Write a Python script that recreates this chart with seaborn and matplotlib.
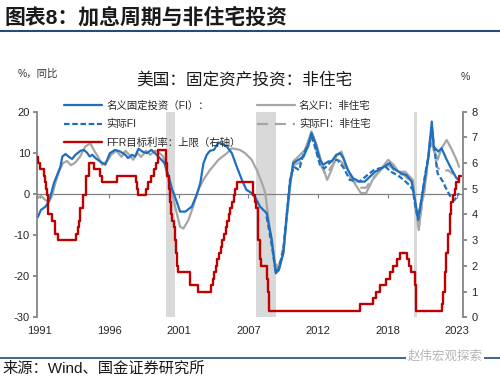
import matplotlib
matplotlib.use('Agg')
import matplotlib.pyplot as plt
import seaborn as sns

# ---- data ----
# nominal fixed investment, y/y %
nom_fi_t = [1991.15, 1991.4, 1991.75, 1992.0, 1992.2, 1992.4, 1992.65, 1992.9, 1993.05, 1993.3,
            1993.55, 1993.8, 1994.05, 1994.45, 1994.7, 1994.95, 1995.15, 1995.35, 1995.6, 1995.95,
            1996.35, 1996.7, 1997.1, 1997.5, 1997.9, 1998.1, 1998.4, 1998.65, 1998.9, 1999.2,
            1999.55, 1999.9, 2000.3, 2000.6, 2000.9, 2001.2, 2001.5, 2001.8, 2002.1, 2002.5,
            2003.0, 2003.4, 2003.65, 2003.9, 2004.15, 2004.4, 2004.7, 2005.05, 2005.4, 2005.7,
            2006.08, 2006.46, 2006.85, 2007.2, 2007.6, 2007.9, 2008.25, 2008.76, 2009.15, 2009.45,
            2009.7, 2010.04, 2010.3, 2010.55, 2010.8, 2011.2, 2011.6, 2011.96, 2012.2, 2012.5,
            2012.86, 2013.1, 2013.5, 2013.75, 2014.1, 2014.4, 2014.65, 2015.0, 2015.4, 2015.9,
            2016.3, 2016.7, 2017.1, 2017.6, 2018.0, 2018.2, 2018.5, 2018.9, 2019.1, 2019.5,
            2019.9, 2020.15, 2020.4, 2020.65, 2020.9, 2021.2, 2021.45, 2021.6, 2021.95, 2022.2,
            2022.6, 2023.0, 2023.35, 2023.55]
nom_fi = [-5.7, -3.9, -3.1, -1.9, 0.2, 2.6, 4.6, 6.6, 9.1, 9.7,
          9.0, 8.5, 9.5, 10.5, 10.7, 10.0, 9.1, 9.5, 8.7, 7.9,
          7.1, 9.9, 10.7, 10.3, 9.5, 8.7, 9.5, 9.1, 11.0, 10.3,
          9.9, 10.7, 9.5, 8.5, 7.5, 4.5, 1.0, -1.5, -4.3, -4.3,
          -3.1, 0.0, 2.6, 7.5, 9.5, 10.5, 10.7, 12.5, 12.0, 11.5,
          9.9, 6.6, 3.4, 1.0, 0.2, -1.0, -3.1, -4.7, -11.2, -19.3,
          -18.5, -14.4, -5.0, 2.6, 7.5, 8.3, 9.1, 11.9, 14.8, 12.3,
          8.3, 7.1, 7.9, 7.9, 9.5, 9.9, 8.7, 5.8, 3.8, 3.0,
          3.0, 4.2, 5.4, 6.2, 7.1, 7.5, 6.2, 5.4, 5.0, 4.6,
          3.0, -1.5, -5.9, -1.5, 3.4, 9.1, 17.6, 11.5, 10.3, 11.1,
          8.3, 5.8, 3.8, 3.4]

# real fixed investment, y/y %
real_fi_t = [2008.75, 2009.15, 2009.45, 2009.7, 2010.04, 2010.3, 2010.55, 2010.85, 2011.25, 2011.6,
             2011.95, 2012.2, 2012.5, 2012.85, 2013.2, 2013.7, 2014.2, 2014.7, 2015.15, 2015.9,
             2016.5, 2017.0, 2017.4, 2017.9, 2018.3, 2018.8, 2019.3, 2019.7, 2020.0, 2020.15,
             2020.4, 2020.65, 2020.95, 2021.2, 2021.45, 2021.65, 2021.9, 2022.3, 2022.6, 2022.95,
             2023.2, 2023.55]
real_fi = [-5.5, -12.5, -19.0, -18.0, -13.5, -5.0, 3.4, 6.6, 5.8, 9.9,
           12.0, 13.9, 11.1, 7.1, 6.2, 7.9, 8.3, 6.2, 3.4, 3.0,
           4.6, 5.8, 6.2, 6.6, 5.4, 4.6, 3.4, 2.2, 1.0, -2.3,
           -6.3, -1.5, 5.0, 9.0, 16.4, 10.7, 5.0, 3.0, 1.0, -1.0,
           -1.5, 0.2]

# nominal nonresidential fixed investment, y/y %
nom_nr_t = [1991.15, 1991.4, 1991.75, 1992.0, 1992.25, 1992.5, 1992.8, 1993.1, 1993.4, 1993.7,
            1994.0, 1994.4, 1994.8, 1995.2, 1995.5, 1995.8, 1996.1, 1996.5, 1996.8, 1997.2,
            1997.6, 1997.9, 1998.2, 1998.5, 1998.8, 1999.1, 1999.5, 1999.8, 2000.2, 2000.5,
            2000.8, 2001.25, 2001.6, 2002.1, 2002.36, 2002.75, 2003.1, 2003.5, 2003.9, 2004.4,
            2005.05, 2005.7, 2006.08, 2006.7, 2007.1, 2007.6, 2008.0, 2008.4, 2008.65, 2009.0,
            2009.4, 2009.66, 2010.04, 2010.3, 2010.55, 2010.8, 2011.2, 2011.7, 2012.2, 2012.6,
            2012.95, 2013.4, 2013.7, 2014.1, 2014.5, 2014.85, 2015.35, 2016.0, 2016.4, 2016.9,
            2017.4, 2018.1, 2018.5, 2018.9, 2019.4, 2020.0, 2020.25, 2020.45, 2020.7, 2020.9,
            2021.3, 2021.5, 2021.9, 2022.2, 2022.6, 2023.0, 2023.35, 2023.55]
nom_nr = [-1.0, -0.5, -1.5, -2.0, -0.5, 2.5, 5.5, 7.5, 8.0, 7.0,
          7.5, 9.0, 11.5, 12.3, 10.5, 9.0, 7.1, 8.0, 9.5, 10.5,
          9.0, 10.5, 9.5, 8.3, 10.0, 9.0, 10.5, 9.5, 10.5, 10.0,
          9.1, 2.6, -1.5, -8.0, -8.4, -6.3, -3.1, 1.0, 3.5, 5.8,
          8.3, 9.9, 11.1, 10.7, 9.9, 8.3, 5.8, 2.6, 0.2, -8.8,
          -16.9, -17.7, -14.4, -6.0, 1.5, 7.9, 9.1, 10.7, 15.2, 11.9,
          7.9, 3.4, 5.5, 9.1, 10.3, 7.1, 3.4, 0.2, 0.2, 3.4,
          5.4, 8.3, 7.1, 5.4, 5.4, 3.4, -3.9, -8.8, -2.0, 1.0,
          13.1, 11.9, 8.3, 11.1, 13.1, 10.7, 8.3, 6.6]

# real nonresidential fixed investment, y/y %
real_nr_t = [2008.75, 2009.15, 2009.45, 2009.7, 2010.04, 2010.3, 2010.55, 2010.85, 2011.25, 2011.6,
             2011.95, 2012.2, 2012.5, 2012.85, 2013.3, 2013.7, 2014.2, 2014.7, 2015.15, 2015.9,
             2016.4, 2016.9, 2017.4, 2017.9, 2018.3, 2018.8, 2019.3, 2019.7, 2020.0, 2020.2,
             2020.45, 2020.7, 2020.95, 2021.3, 2021.55, 2021.85, 2022.3, 2022.7, 2023.0, 2023.35,
             2023.55]
real_nr = [-4.5, -11.5, -18.0, -17.5, -13.0, -5.5, 2.6, 7.1, 7.5, 9.5,
           11.5, 14.5, 11.5, 7.5, 4.5, 6.5, 8.7, 7.1, 4.2, 1.5,
           1.5, 3.8, 5.4, 7.1, 6.6, 5.0, 4.6, 3.4, 2.0, -3.5,
           -8.0, -2.5, 2.5, 12.0, 11.5, 6.5, 5.4, 5.8, 5.0, 4.6,
           4.6]

# FFR target rate (upper bound), %, change dates
ffr_t = [1991.1, 1991.18, 1991.33, 1991.6, 1991.7, 1991.83, 1991.85, 1991.93, 1991.97, 1992.27,
         1992.5, 1992.68, 1994.1, 1994.22, 1994.3, 1994.38, 1994.62, 1994.87, 1995.09, 1995.51,
         1995.97, 1996.08, 1997.23, 1998.74, 1998.79, 1998.88, 1999.5, 1999.65, 1999.88, 2000.09,
         2000.22, 2000.37, 2001.01, 2001.08, 2001.21, 2001.29, 2001.37, 2001.49, 2001.64, 2001.71,
         2001.75, 2001.85, 2001.94, 2002.85, 2003.48, 2004.5, 2004.61, 2004.72, 2004.86, 2004.95,
         2005.09, 2005.22, 2005.34, 2005.5, 2005.6, 2005.72, 2005.83, 2005.95, 2006.08, 2006.24,
         2006.36, 2006.49, 2007.71, 2007.83, 2007.94, 2008.06, 2008.08, 2008.21, 2008.33, 2008.77,
         2008.83, 2008.96, 2015.96, 2016.95, 2017.2, 2017.45, 2017.95, 2018.22, 2018.45, 2018.74,
         2018.97, 2019.58, 2019.71, 2019.83, 2020.17, 2020.2, 2022.2, 2022.34, 2022.45, 2022.57,
         2022.72, 2022.84, 2022.95, 2023.09, 2023.22, 2023.34, 2023.57, 2023.7]
ffr = [6.25, 6.0, 5.75, 5.5, 5.25, 5.0, 4.75, 4.5, 4.0, 3.75,
       3.25, 3.0, 3.25, 3.5, 3.75, 4.25, 4.75, 5.5, 6.0, 5.75,
       5.5, 5.25, 5.5, 5.25, 5.0, 4.75, 5.0, 5.25, 5.5, 5.75,
       6.0, 6.5, 6.0, 5.5, 5.0, 4.5, 4.0, 3.75, 3.5, 3.0,
       2.5, 2.0, 1.75, 1.25, 1.0, 1.25, 1.5, 1.75, 2.0, 2.25,
       2.5, 2.75, 3.0, 3.25, 3.5, 3.75, 4.0, 4.25, 4.5, 4.75,
       5.0, 5.25, 4.75, 4.5, 4.25, 3.5, 3.0, 2.25, 2.0, 1.5,
       1.0, 0.25, 0.5, 0.75, 1.0, 1.25, 1.5, 1.75, 2.0, 2.25,
       2.5, 2.25, 2.0, 1.75, 1.25, 0.25, 0.5, 1.0, 1.75, 2.5,
       3.25, 4.0, 4.5, 4.75, 5.0, 5.25, 5.5, 5.5]

# US recessions (shaded)
rec_start = [2001.0, 2007.95, 2020.1]
rec_end = [2001.7, 2009.45, 2020.35]

x_ticks = [1991.3, 1996.65, 2002.0, 2007.35, 2012.7, 2018.05, 2023.4]
x_labels = ['1991', '1996', '2001', '2007', '2012', '2018', '2023']

BLUE = '#1f6fbf'
RED = '#c00000'
GREY = '#a6a6a6'
SPINE = '#808080'
RULE = '#1f4e79'

sns.set_theme(style='white')
plt.rcParams['font.family'] = ['Liberation Sans', 'Noto Sans CJK SC']
plt.rcParams['axes.unicode_minus'] = False

fig = plt.figure(figsize=(5.0, 3.78), dpi=100)
ax = fig.add_axes([0.074, 0.1606, 0.852, 0.544])
ax2 = ax.twinx()

for s, e in zip(rec_start, rec_end):
    ax.axvspan(s, e, color='#d9d9d9', lw=0, zorder=0)

sns.lineplot(x=nom_nr_t, y=nom_nr, ax=ax, color=GREY, lw=1.6, label='名义FI：非住宅', legend=False)
sns.lineplot(x=real_nr_t, y=real_nr, ax=ax, color=GREY, lw=1.6, linestyle=(0, (5, 3)),
             label='实际FI：非住宅', legend=False)
sns.lineplot(x=real_fi_t, y=real_fi, ax=ax, color=BLUE, lw=1.6, linestyle=(0, (2.5, 1.2)),
             label='实际FI', legend=False)
sns.lineplot(x=nom_fi_t, y=nom_fi, ax=ax, color=BLUE, lw=1.6, label='名义固定投资（FI）：', legend=False)
sns.lineplot(x=ffr_t, y=ffr, ax=ax2, color=RED, lw=1.7, drawstyle='steps-post',
             label='FFR目标利率：上限（右轴）', legend=False)

ax.set_xlim(1991.1, 2023.85)
ax.set_ylim(-30, 20)
ax2.set_ylim(0, 8)
ax.set_yticks([-30, -20, -10, 0, 10, 20])
ax2.set_yticks(range(0, 9))
ax.set_xticks(x_ticks, x_labels)
ax.set_xlabel('')
ax.set_ylabel('')
ax2.set_ylabel('')

for sp in ['top', 'bottom', 'right']:
    ax.spines[sp].set_visible(False)
for sp in ['top', 'bottom', 'left']:
    ax2.spines[sp].set_visible(False)
ax.spines['left'].set_color(SPINE)
ax2.spines['right'].set_color(SPINE)

ax.tick_params(axis='x', length=0, pad=6, labelsize=8, labelcolor='#262626')
ax.tick_params(axis='y', left=True, direction='out', length=3, color=SPINE, pad=2,
               labelsize=8, labelcolor='#262626')
ax2.tick_params(axis='y', right=True, direction='out', length=3, color=SPINE, pad=3,
                labelsize=8, labelcolor='#262626')

# zero line with the date ticks
sec = ax.secondary_xaxis(0.6)
sec.set_alignment('bottom')
sec.set_xticks(x_ticks)
sec.tick_params(axis='x', labelbottom=False, labeltop=False, direction='out',
                length=3, width=0.8, color=SPINE)
sec.spines['bottom'].set_color(SPINE)
sec.spines['bottom'].set_linewidth(0.9)

# legend
h1, l1 = ax.get_legend_handles_labels()
h2, l2 = ax2.get_legend_handles_labels()
hd = dict(zip(l1 + l2, h1 + h2))
order = ['名义固定投资（FI）：', '实际FI', 'FFR目标利率：上限（右轴）', '名义FI：非住宅', '实际FI：非住宅']
fig.legend([hd[k] for k in order], order, ncol=2, loc='upper left',
           bbox_to_anchor=(0.11, 0.758), frameon=False, fontsize=7.5,
           handlelength=3.6, handletextpad=0.4, columnspacing=1.6, labelspacing=0.78)

# header / footer
fig.text(0.01, 0.955, '图表8：加息周期与非住宅投资', fontsize=15, fontweight='bold',
         color='#1a1a1a', va='center', ha='left')
fig.add_artist(plt.Line2D([0, 1], [0.918, 0.918], color=RULE, lw=1.5))
fig.text(0.036, 0.805, '%，同比', fontsize=7.5, va='center', ha='left', color='#333333')
fig.text(0.488, 0.79, '美国：固定资产投资：非住宅', fontsize=12, va='center', ha='center',
         color='#1a1a1a')
fig.text(0.93, 0.795, '%', fontsize=7.5, va='center', ha='center', color='#333333')
fig.add_artist(plt.Line2D([0, 1], [0.054, 0.054], color=RULE, lw=1.2))
fig.text(0.005, 0.025, '来源：Wind、国金证券研究所', fontsize=11, va='center', ha='left',
         color='#1a1a1a')
fig.text(0.89, 0.057, '赵伟宏观探索', fontsize=9, va='center', ha='center', color='#b5b5b5',
         bbox=dict(facecolor='white', edgecolor='none', pad=1))

fig.savefig('out.png', dpi=100)
